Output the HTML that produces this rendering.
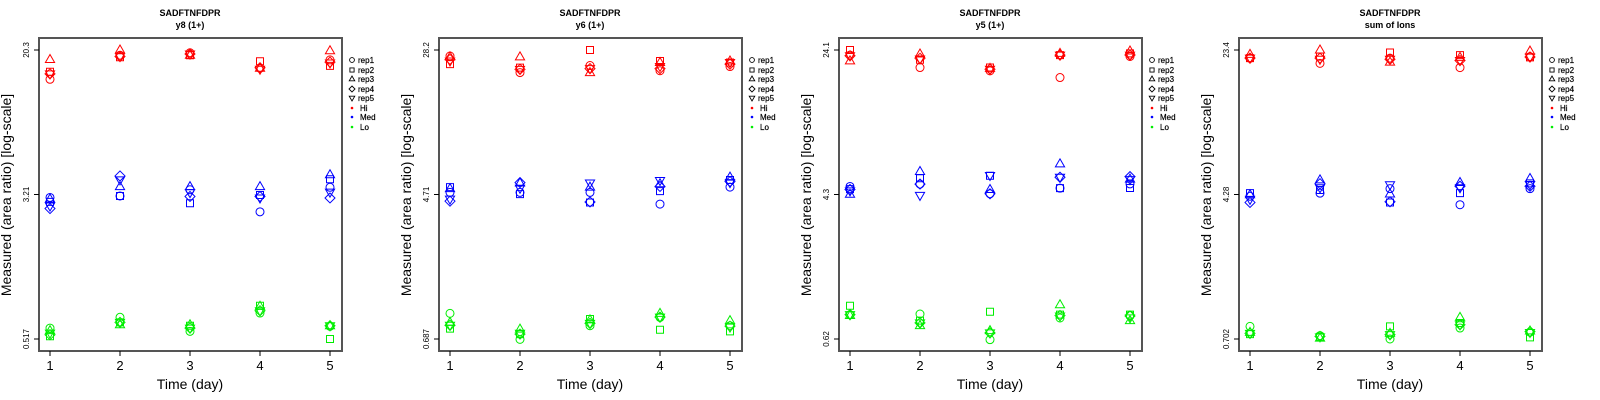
<!DOCTYPE html>
<html><head><meta charset="utf-8"><style>
html,body{margin:0;padding:0;background:#fff;}
svg{display:block;font-family:"Liberation Sans",sans-serif;}
</style></head><body>
<svg id="chart" width="1600" height="400" viewBox="0 0 1600 400" xmlns="http://www.w3.org/2000/svg"></svg>
<script>
const days = [1, 2, 3, 4, 5];
const reps = ["rep1", "rep2", "rep3", "rep4", "rep5"];
const groups = ["Hi", "Med", "Lo"];
const groupColors = ["#ff0000", "#0000ff", "#00ee00"];
const panelTitles = ["y8 (1+)", "y6 (1+)", "y5 (1+)", "sum of Ions"];
const yMin = [0.517, 0.687, 0.62, 0.702];
const yMax = [20.3, 28.2, 24.1, 23.4];
const yTickLabels = [["0.517", "3.21", "20.3"], ["0.687", "4.71", "28.2"], ["0.62", "4.3", "24.1"], ["0.702", "4.28", "23.4"]];

// values[group][day][rep]
const p1Hi = [[14.0,15.4,18.0,15.0,15.0],[19.0,18.5,20.3,18.7,18.7],[19.6,19.0,19.0,19.3,19.3],[16.1,17.6,16.1,16.2,15.9],[17.9,16.6,20.1,17.4,17.2]];
const p1Med = [[3.12,2.95,3.06,2.71,2.80],[3.18,3.18,3.58,4.10,3.90],[3.44,2.90,3.58,3.16,3.32],[2.60,3.22,3.58,3.16,3.10],[3.55,3.93,4.16,3.10,3.34]];
const p1Lo = [[0.594,0.535,0.575,0.546,0.557],[0.681,0.639,0.620,0.639,0.639],[0.570,0.612,0.620,0.594,0.594],[0.719,0.789,0.784,0.74,0.74],[0.607,0.517,0.612,0.612,0.612]];
const p2Hi = [[26.1,23.5,25.8,25.0,24.5],[21.1,22.5,25.8,22,22],[23.1,28.2,21.1,22.2,22.2],[21.6,24.5,24.0,22.2,22.8],[22.8,24.0,24.5,23.5,24.0]];
const p2Med = [[4.52,4.84,4.75,4.04,4.15],[4.52,4.42,5.1,5.13,4.77],[4.52,3.97,4.84,4.0,5.1],[3.89,4.6,5.05,4.88,5.27],[4.84,5.3,5.5,5.2,5.13]];
const p2Lo = [[0.955,0.785,0.851,0.82,0.82],[0.684,0.732,0.78,0.732,0.74],[0.815,0.888,0.878,0.84,0.84],[0.907,0.774,0.955,0.91,0.91],[0.815,0.758,0.87,0.81,0.80]];
const p3Hi = [[22.6,24.1,21.0,22.4,22.4],[19.3,21.3,22.9,21.7,21.5],[18.5,19.3,19.1,18.9,18.9],[17.0,22.6,23.1,22.6,22.6],[22.2,23.1,23.8,22.6,22.6]];
const p3Med = [[4.28,4.14,3.88,4.12,4.05],[4.41,4.75,5.17,4.41,3.82],[3.9,4.9,4.12,3.9,4.92],[4.19,4.19,5.70,4.81,4.81],[4.42,4.2,4.7,4.85,4.67]];
const p3Lo = [[0.844,0.945,0.835,0.844,0.844],[0.851,0.782,0.734,0.76,0.76],[0.615,0.876,0.689,0.67,0.67],[0.809,0.844,0.957,0.835,0.83],[0.835,0.844,0.782,0.83,0.81]];
const p4Hi = [[21.2,21.2,22.2,21.2,21.2],[19.9,21.6,23.4,21.2,20.9],[21.2,22.7,20.2,20.9,20.9],[18.9,22.0,21.4,20.6,20.6],[21.6,21.4,23.1,21.5,21.5]];
const p4Med = [[3.97,4.12,4.04,3.68,3.82],[4.12,4.28,4.84,4.62,4.4],[4.35,3.68,4.08,3.71,4.56],[3.58,4.12,4.69,4.48,4.4],[4.35,4.64,4.92,4.48,4.56]];
const p4Lo = [[0.818,0.745,0.761,0.752,0.752],[0.731,0.72,0.71,0.725,0.72],[0.702,0.818,0.752,0.74,0.74],[0.802,0.852,0.913,0.835,0.835],[0.762,0.716,0.773,0.768,0.76]];
const panelData = [[p1Hi,p1Med,p1Lo],[p2Hi,p2Med,p2Lo],[p3Hi,p3Med,p3Lo],[p4Hi,p4Med,p4Lo]];

const NS = "http://www.w3.org/2000/svg";
const svg = document.getElementById("chart");
function mk(tag, attrs, parent) {
  const e = document.createElementNS(NS, tag);
  for (const k in attrs) e.setAttribute(k, attrs[k]);
  parent.appendChild(e);
  return e;
}
function markerPath(shape, cx, cy) {
  const r = 4;
  if (shape === 1) return `M${cx-3.5},${cy-3.5}h7v7h-7z`;
  if (shape === 2) return `M${cx},${cy-5}L${cx+4.6},${cy+3}L${cx-4.6},${cy+3}z`;
  if (shape === 3) return `M${cx},${cy-5}L${cx+5},${cy}L${cx},${cy+5}L${cx-5},${cy}z`;
  if (shape === 4) return `M${cx},${cy+5}L${cx+4.6},${cy-3}L${cx-4.6},${cy-3}z`;
  return `M${cx-r},${cy}a${r},${r} 0 1,0 ${2*r},0a${r},${r} 0 1,0 ${-2*r},0`;
}

for (let p = 0; p < 4; p++) {
  const ox = p * 400;
  const g = mk("g", {transform: `translate(${ox},0)`}, svg);
  
  
  const xs = d => 50 + (d - 1) * 70;
  const lmin = Math.log(yMin[p]), lmax = Math.log(yMax[p]);
  const ys = v => 339 - (Math.log(v) - lmin) / (lmax - lmin) * 289;

  const t1 = mk("text", {x: 190, y: 16, "font-size": 9, "font-weight": "bold", "text-anchor": "middle", fill: "#000"}, g);
  t1.textContent = "SADFTNFDPR";
  
  
  const t2 = mk("text", {x: 190, y: 28, "font-size": 9, "font-weight": "bold", "text-anchor": "middle", fill: "#000"}, g);
  t2.textContent = panelTitles[p];
  
  

  const box = mk("rect", {x: 39, y: 38, width: 303, height: 313, fill: "none", stroke: "#555", "stroke-width": 2}, g);
  
  

  days.forEach(d => {
    mk("line", {x1: xs(d), x2: xs(d), y1: 351, y2: 356, stroke: "#000", "stroke-width": 1}, g);
    const tl = mk("text", {x: xs(d), y: 370, "font-size": 13, "text-anchor": "middle", fill: "#000"}, g);
    tl.textContent = d;
    
    
  });
  const xt = mk("text", {x: 190, y: 389, "font-size": 14, "text-anchor": "middle", fill: "#000"}, g);
  xt.textContent = "Time (day)";
  
  

  const tickVals = [yMin[p], Math.sqrt(yMin[p] * yMax[p]), yMax[p]];
  tickVals.forEach((v, i) => {
    const y = ys(v);
    mk("line", {x1: 34, x2: 39, y1: y, y2: y, stroke: "#000", "stroke-width": 1}, g);
    const yl = mk("text", {x: 0, y: 0, "font-size": 8, "text-anchor": "middle", fill: "#000", transform: `translate(29,${y}) rotate(-90)`}, g);
    yl.textContent = yTickLabels[p][i];
    
    
  });
  const yt = mk("text", {x: 0, y: 0, "font-size": 14, "text-anchor": "middle", fill: "#000", transform: "translate(11,195) rotate(-90)"}, g);
  yt.textContent = "Measured (area ratio) [log-scale]";
  
  

  for (let gi = 0; gi < 3; gi++) {
    const vals = panelData[p][gi];
    for (let di = 0; di < days.length; di++) {
      for (let ri = 0; ri < reps.length; ri++) {
        const pt = mk("path", {d: markerPath(ri, xs(days[di]), ys(vals[di][ri])), fill: "none", stroke: groupColors[gi], "stroke-width": 1}, g);
        
        
      }
    }
  }

  const lg = mk("g", {}, g);
  
  
  const rowsY = [60, 70, 79, 89, 98, 108, 117, 127];
  reps.forEach((r, i) => {
    const cy = rowsY[i];
    mk("path", {d: markerPath(i, 352, cy), fill: "none", stroke: "#000", "stroke-width": 1.5, transform: `translate(${352*0.4},${cy*0.4}) scale(0.6)`}, lg);
    const tx = mk("text", {x: 358, y: cy + 3, "font-size": 8, fill: "#000", stroke: "#000", "stroke-width": 0.2}, lg);
    tx.textContent = r;
    
    
  });
  groups.forEach((gn, i) => {
    const cy = rowsY[5 + i];
    mk("circle", {cx: 352, cy: cy, r: 1.3, fill: groupColors[i]}, lg);
    const tx = mk("text", {x: 360, y: cy + 3, "font-size": 8, fill: "#000", stroke: "#000", "stroke-width": 0.2}, lg);
    tx.textContent = gn;
    
    
  });
}
</script>
</body></html>
